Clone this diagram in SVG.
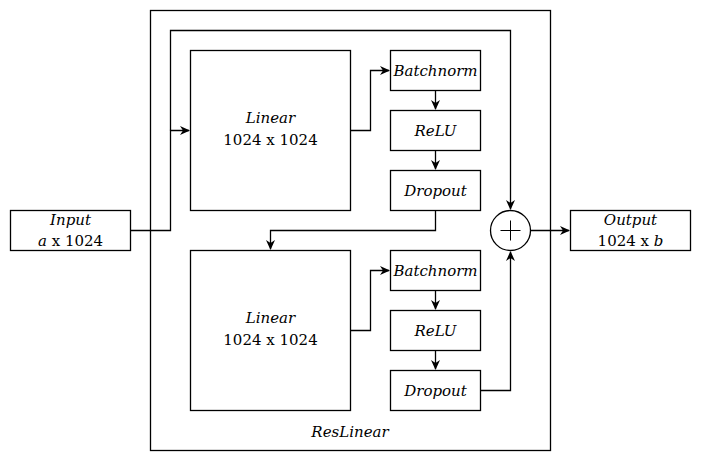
<svg xmlns="http://www.w3.org/2000/svg" width="701" height="461" viewBox="0 0 701 461">
<defs>
<marker id="arr" viewBox="0 0 10 10" refX="9" refY="5" markerWidth="10" markerHeight="10" markerUnits="userSpaceOnUse" orient="auto">
<path d="M0,0.5 L10,5 L0,9.5 L3,5 Z" fill="#000"/>
</marker>
<style>
.box{fill:#fff;stroke:#000;stroke-width:1.3}
.frame{fill:none;stroke:#000;stroke-width:1.3}
.ln{fill:none;stroke:#000;stroke-width:1.3}
.plus{fill:none;stroke:#000;stroke-width:1}
text{font-family:"DejaVu Serif","Liberation Serif",serif;font-size:15px;fill:#000;text-anchor:middle}
.i{font-style:italic}
</style>
</defs>
<rect width="701" height="461" fill="#fff"/>
<g id="reslinear">
<rect class="frame" x="150.5" y="10.5" width="400" height="440"/>
<text class="i" x="350" y="437">ResLinear</text>
</g>
<g id="connectors">
<path class="ln" d="M130.5,230.5 H170.5 V130.5 H189" marker-end="url(#arr)"/>
<path class="ln" d="M170.5,130.5 V30.5 H510.5 V209" marker-end="url(#arr)"/>
<path class="ln" d="M350.5,130.5 H370.5 V70.5 H389" marker-end="url(#arr)"/>
<path class="ln" d="M435.5,90.5 V109" marker-end="url(#arr)"/>
<path class="ln" d="M435.5,150.5 V169" marker-end="url(#arr)"/>
<path class="ln" d="M435.5,210.5 V230.5 H270.5 V249" marker-end="url(#arr)"/>
<path class="ln" d="M350.5,330.5 H370.5 V270.5 H389" marker-end="url(#arr)"/>
<path class="ln" d="M435.5,290.5 V309" marker-end="url(#arr)"/>
<path class="ln" d="M435.5,350.5 V369" marker-end="url(#arr)"/>
<path class="ln" d="M480.5,390.5 H510.5 V252" marker-end="url(#arr)"/>
<path class="ln" d="M530.5,230.5 H569" marker-end="url(#arr)"/>
</g>
<g id="input">
<rect class="box" x="10.5" y="210.5" width="120" height="40"/>
<text x="70.5" y="225"><tspan class="i">Input</tspan></text>
<text x="70.5" y="246"><tspan class="i">a</tspan> x 1024</text>
</g>
<g id="linear1">
<rect class="box" x="190.5" y="50.5" width="160" height="160"/>
<text class="i" x="270.5" y="123">Linear</text>
<text x="270.5" y="145">1024 x 1024</text>
</g>
<g id="batchnorm1">
<rect class="box" x="390.5" y="50.5" width="90" height="40"/>
<text class="i" x="435.5" y="76">Batchnorm</text>
</g>
<g id="relu1">
<rect class="box" x="390.5" y="110.5" width="90" height="40"/>
<text class="i" x="435.5" y="136">ReLU</text>
</g>
<g id="dropout1">
<rect class="box" x="390.5" y="170.5" width="90" height="40"/>
<text class="i" x="435.5" y="196">Dropout</text>
</g>
<g id="linear2">
<rect class="box" x="190.5" y="250.5" width="160" height="160"/>
<text class="i" x="270.5" y="323">Linear</text>
<text x="270.5" y="345">1024 x 1024</text>
</g>
<g id="batchnorm2">
<rect class="box" x="390.5" y="250.5" width="90" height="40"/>
<text class="i" x="435.5" y="276">Batchnorm</text>
</g>
<g id="relu2">
<rect class="box" x="390.5" y="310.5" width="90" height="40"/>
<text class="i" x="435.5" y="336">ReLU</text>
</g>
<g id="dropout2">
<rect class="box" x="390.5" y="370.5" width="90" height="40"/>
<text class="i" x="435.5" y="396">Dropout</text>
</g>
<g id="add">
<circle class="box" cx="510.5" cy="230.5" r="20"/>
<path class="plus" d="M500.5,230.5 H520.5 M510.5,220.5 V240.5"/>
</g>
<g id="output">
<rect class="box" x="570.5" y="210.5" width="120" height="40"/>
<text class="i" x="630.5" y="225">Output</text>
<text x="630.5" y="246">1024 x <tspan class="i">b</tspan></text>
</g>
</svg>
